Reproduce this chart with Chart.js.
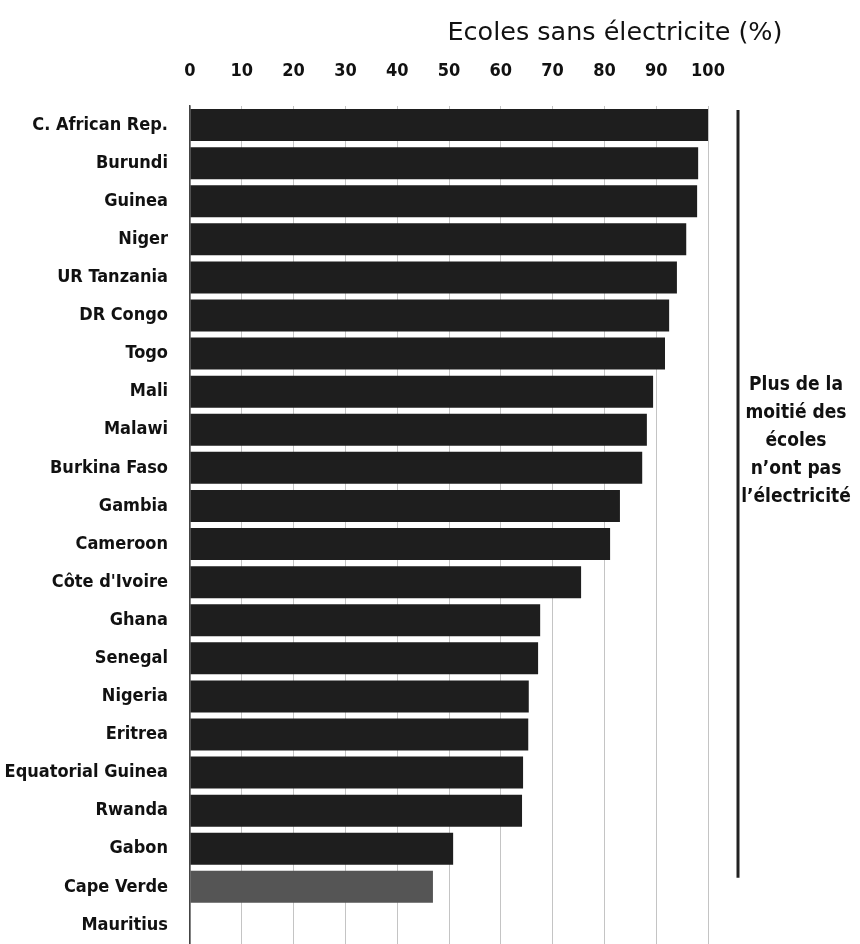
<!DOCTYPE html>
<html>
<head>
<meta charset="utf-8">
<script src="https://cdn.jsdelivr.net/npm/chart.js@4/dist/chart.umd.min.js"></script>
<style>
  html, body { margin: 0; padding: 0; background: #fff; }
  #wrap { position: relative; width: 860px; height: 944px; }
</style>
</head>
<body>
<div id="wrap"><canvas id="schoolsChart"></canvas></div>
<script>
// Données
const countries = [
  'C. African Rep.', 'Burundi', 'Guinea', 'Niger', 'UR Tanzania', 'DR Congo',
  'Togo', 'Mali', 'Malawi', 'Burkina Faso', 'Gambia', 'Cameroon',
  "Côte d'Ivoire", 'Ghana', 'Senegal', 'Nigeria', 'Eritrea',
  'Equatorial Guinea', 'Rwanda', 'Gabon', 'Cape Verde', 'Mauritius'
];
const noElectricity = [
  100, 98.1, 97.9, 95.8, 94.0, 92.5,
  91.7, 89.4, 88.2, 87.3, 83.0, 81.1,
  75.5, 67.6, 67.2, 65.4, 65.3,
  64.3, 64.1, 50.8, 46.9, 0
];
const xTicks = [0, 10, 20, 30, 40, 50, 60, 70, 80, 90, 100];
const axisTitle = 'Ecoles sans électricite (%)';
const noteLines = ['Plus de la', 'moitié des', 'écoles', 'n\u2019ont pas', 'l\u2019électricité'];

const FONT = "'Liberation Sans Narrow', 'DejaVu Sans Condensed', sans-serif";
const barColors = countries.map(c => c === 'Cape Verde' ? '#555555' : '#1e1e1e');

// Titre de l'axe + trait vertical et note à droite
const extrasPlugin = {
  id: 'extras',
  afterDraw(chart) {
    const { ctx, chartArea } = chart;
    const yScale = chart.scales.y;
    ctx.save();
    ctx.fillStyle = '#111';
    ctx.textAlign = 'center';
    ctx.textBaseline = 'middle';

    // titre étiré à la largeur du modèle
    ctx.font = `25px ${FONT}`;
    const w = ctx.measureText(axisTitle).width;
    ctx.save();
    ctx.translate(chartArea.right - 93, 33);
    ctx.scale(335 / w, 1);
    ctx.fillText(axisTitle, 0, 0);
    ctx.restore();

    const lineX = chartArea.right + 30;
    ctx.strokeStyle = '#222';
    ctx.lineWidth = 3;
    ctx.beginPath();
    ctx.moveTo(lineX, chartArea.top + 4);
    ctx.lineTo(lineX, yScale.getPixelForValue(19.5) + 10);
    ctx.stroke();

    ctx.font = `bold 19px ${FONT}`;
    const midY = yScale.getPixelForValue(8.5) - 8;
    noteLines.forEach((line, i) => {
      ctx.fillText(line, lineX + 58, midY + (i - 2) * 28);
    });
    ctx.restore();
  }
};

const ctx = document.getElementById('schoolsChart').getContext('2d');
new Chart(ctx, {
  type: 'bar',
  data: {
    labels: countries,
    datasets: [{
      data: noElectricity,
      backgroundColor: barColors,
      borderWidth: 0,
      barPercentage: 0.84,
      categoryPercentage: 1
    }]
  },
  options: {
    indexAxis: 'y',
    responsive: true,
    maintainAspectRatio: false,
    animation: false,
    layout: { padding: { top: 0, right: 152, bottom: 0, left: 0 } },
    plugins: {
      legend: { display: false },
      tooltip: { enabled: false }
    },
    scales: {
      x: {
        position: 'top',
        min: 0,
        max: 100,
        afterBuildTicks(scale) {
          scale.ticks = xTicks.map(v => ({ value: v }));
        },
        afterFit(scale) { scale.height = 106; },
        grid: { color: '#c4c4c4', lineWidth: 1, drawTicks: false },
        border: { display: false },
        ticks: {
          color: '#111',
          padding: 24,
          font: { family: FONT, size: 18, weight: 'bold' }
        }
      },
      y: {
        afterFit(scale) {
          scale.width = 190;
          scale.paddingTop = 0;
          scale.paddingBottom = 0;
        },
        grid: { display: false, drawTicks: false },
        border: { display: true, color: '#444', width: 1.5 },
        ticks: {
          color: '#111',
          padding: 22,
          autoSkip: false,
          font: { family: FONT, size: 18, weight: 'bold' }
        }
      }
    }
  },
  plugins: [extrasPlugin]
});
</script>
</body>
</html>
